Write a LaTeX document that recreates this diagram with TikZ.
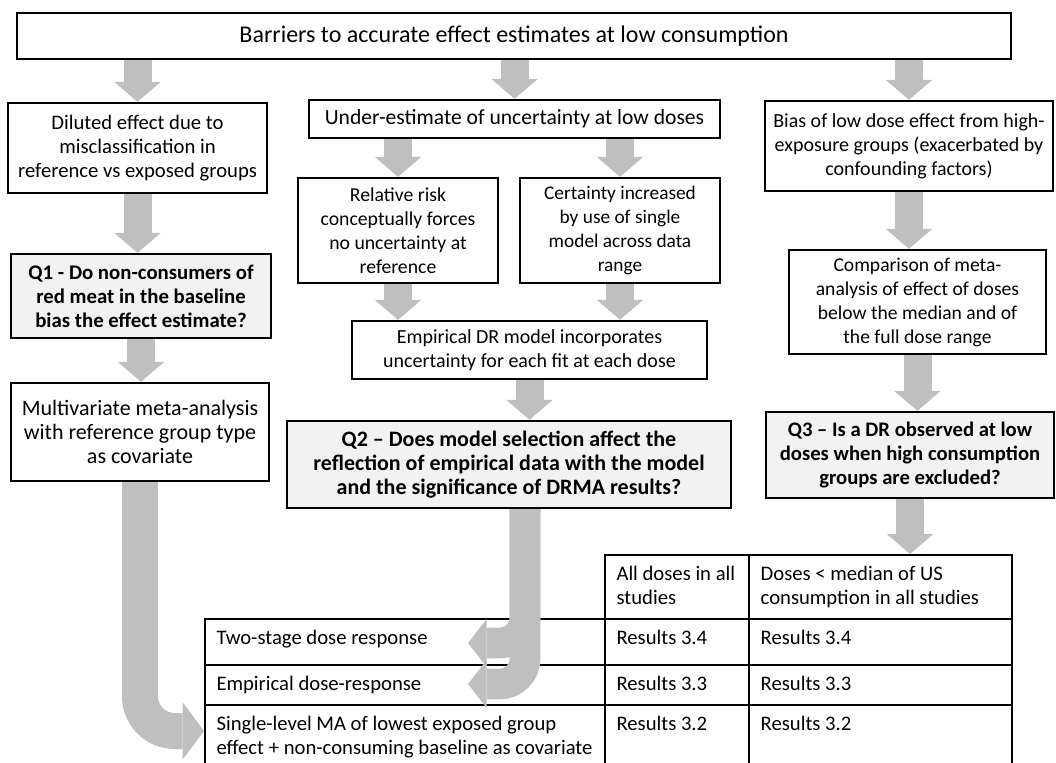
\documentclass[tikz,border=0pt]{standalone}
\usepackage{fontspec}
\setmainfont{Carlito}
\usetikzlibrary{arrows.meta}
\definecolor{arrowgray}{HTML}{BFBFBF}
\definecolor{qfill}{HTML}{F2F2F2}
\begin{document}
\begin{tikzpicture}
    [
    x=0.75pt, y=-0.75pt,
    fsize/.style={font=\fontsize{#1}{18pt}\selectfont},
    bsize/.style={font=\fontsize{#1}{18pt}\selectfont\bfseries},
    every node/.style={fsize=15.5pt},
    box/.style={draw,line width=1.8pt,align=flush center,inner sep=3pt},
    question/.style={box,fill=qfill},
    cell/.style={draw,line width=1.8pt,anchor=north west,align=flush left,inner xsep=8.5pt,inner ysep=0pt,text height=18.75pt},
    fat/.style={draw=arrowgray,line width=21pt,-{Triangle[length=15pt,width=35pt,line width=0pt]}},
    bigcurve/.style={draw=arrowgray,line width=27pt,rounded corners=26pt,-{Triangle[length=16pt,width=43pt,line width=0pt]}},
    qcurve/.style={draw=arrowgray,line width=23pt,rounded corners=19pt,-{Triangle[length=14pt,width=36pt,line width=0pt]}}
    ]
    \useasboundingbox (0,0) rectangle (1056,763);
    \clip (0,0) rectangle (1056,763);
    % boxes
    \node (top) at (514,36) [box,fsize=18pt,minimum width=745.5pt,minimum height=34.5pt] {Barriers to accurate effect estimates at low consumption};
    \node (diluted) at (137.5,148) [box,minimum width=194.25pt,minimum height=67.5pt] {Diluted effect due to\\misclassification in\\reference vs exposed groups};
    \node (under) at (514.5,119) [box,fsize=16.2pt,minimum width=308.25pt,minimum height=28.5pt] {Under-estimate of uncertainty at low doses};
    \node (bias) at (909,146) [box,fsize=15pt,minimum width=216pt,minimum height=67.5pt] {Bias of low dose effect from high-\\exposure groups (exacerbated by\\confounding factors)};
    \node (relative) at (398,230.5) [box,fsize=14.8pt,minimum width=150pt,minimum height=78.75pt] {Relative risk\\conceptually forces\\no uncertainty at\\reference};
    \node (certainty) at (620,230.5) [box,fsize=14.5pt,minimum width=150pt,minimum height=78.75pt] {Certainty increased\\by use of single\\model across data\\range};
    \node (q1) at (141,296) [question,bsize=15.6pt,minimum width=195pt,minimum height=63pt] {Q1 - Do non-consumers of\\red meat in the baseline\\bias the effect estimate?};
    \node (multi) at (140,432) [box,fsize=16.5pt,minimum width=193.5pt,minimum height=73.5pt] {Multivariate meta-analysis\\with reference group type\\as covariate};
    \node (empirical) at (529.5,350) [box,fsize=15pt,minimum width=266.25pt,minimum height=43.5pt] {Empirical DR model incorporates\\uncertainty for each fit at each dose};
    \node (q2) at (509,464.5) [question,bsize=16.5pt,minimum width=333pt,minimum height=65.25pt] {Q2 -- Does model selection affect the\\reflection of empirical data with the model\\and the significance of DRMA results?};
    \node (comparison) at (917.5,302) [box,fsize=14.7pt,minimum width=192.75pt,minimum height=78pt] {Comparison of meta-\\analysis of effect of doses\\below the median and of\\the full dose range};
    \node (q3) at (910,455) [question,bsize=15.5pt,minimum width=216pt,minimum height=64.5pt] {Q3 -- Is a DR observed at low\\doses when high consumption\\groups are excluded?};
    % table
    \node (hdr1) at (604,554) [cell,text width=91pt,minimum width=108pt,text depth=29.25pt] {All doses in all\\studies};
    \node (hdr2) at (748,554) [cell,text width=180pt,minimum width=197.25pt,text depth=29.25pt] {Doses < median of US\\consumption in all studies};
    \node (l1) at (204,618) [cell,text width=283pt,minimum width=300pt,text depth=15.75pt] {Two-stage dose response};
    \node (a1) at (604,618) [cell,text width=91pt,minimum width=108pt,text depth=15.75pt] {Results 3.4};
    \node (b1) at (748,618) [cell,text width=180pt,minimum width=197.25pt,text depth=15.75pt] {Results 3.4};
    \node (l2) at (204,664) [cell,text width=283pt,minimum width=300pt,text depth=11.25pt] {Empirical dose-response};
    \node (a2) at (604,664) [cell,text width=91pt,minimum width=108pt,text depth=11.25pt] {Results 3.3};
    \node (b2) at (748,664) [cell,text width=180pt,minimum width=197.25pt,text depth=11.25pt] {Results 3.3};
    \node (l3) at (204,704) [cell,text width=283pt,minimum width=300pt,text depth=45.75pt] {Single-level MA of lowest exposed group\\effect + non-consuming baseline as covariate};
    \node (a3) at (604,704) [cell,text width=91pt,minimum width=108pt,text depth=45.75pt] {Results 3.2};
    \node (b3) at (748,704) [cell,text width=180pt,minimum width=197.25pt,text depth=45.75pt] {Results 3.2};
    % block arrows
    \draw [fat] (diluted.north |- top.south) to (diluted.north);
    \draw [fat] (under.north |- top.south) to (under.north);
    \draw [fat] (bias.north |- top.south) to (bias.north);
    \draw [fat] (diluted.south) to (diluted.south |- q1.north);
    \draw [fat] (q1.south) to (q1.south |- multi.north);
    \draw [fat] (relative.north |- under.south) to (relative.north);
    \draw [fat] (certainty.north |- under.south) to (certainty.north);
    \draw [fat] (relative.south) to (relative.south |- empirical.north);
    \draw [fat] (certainty.south) to (certainty.south |- empirical.north);
    \draw [fat] (empirical.south) to (empirical.south |- q2.north);
    \draw [fat] (bias.south) to (bias.south |- comparison.north);
    \draw [fat] (comparison.south) to (comparison.south |- q3.north);
    \draw [fat] (q3.south) to (q3.south |- hdr2.north);
    % curved arrows into the table
    \coordinate (in3) at (l3.west |- 0,731);
    \coordinate (q2out) at ([xshift=12pt]q2.south);
    \coordinate (in1) at (468,643);
    \coordinate (in2) at (468,684);
    \draw [bigcurve] (multi.south) |- (in3);
    \draw [qcurve] (q2out) |- (in2);
    \draw [qcurve] (q2out) |- (in1);
\end{tikzpicture}
\end{document}
